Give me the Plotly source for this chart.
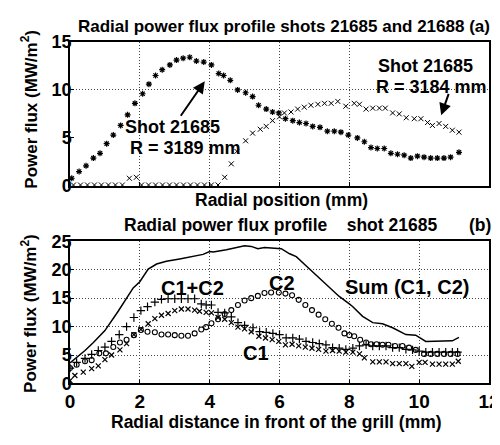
import plotly.graph_objects as go

# ---------------- data: panel (a) ----------------
xa_3189 = [0.05,0.26,0.46,0.67,0.86,1.05,1.24,1.45,1.65,1.86,2.08,2.26,2.45,2.64,2.86,3.05,3.24,3.43,3.62,3.83,
           4.05,4.26,4.4,4.59,4.8,5.03,5.23,5.4,5.62,5.8,5.98,6.17,6.38,6.57,6.76,6.95,7.16,7.37,7.57,7.76,
           7.97,8.23,8.43,8.62,8.8,9.0,9.19,9.38,9.57,9.76,9.95,10.14,10.33,10.52,10.71,10.9,11.14]
ya_3189 = [0.8,1.5,2.1,2.9,3.4,4.4,5.3,6.3,7.4,8.6,9.6,10.6,11.5,12.1,12.6,13.1,13.3,13.4,13.0,12.9,
           12.6,11.7,11.5,11.0,10.0,9.7,9.3,8.4,8.0,7.7,7.6,7.0,6.8,6.6,6.5,6.2,6.1,5.7,5.7,5.6,
           5.3,5.0,4.6,4.0,3.9,3.9,3.4,3.3,3.2,2.9,3.1,3.0,2.9,2.9,2.9,3.0,3.5]

xa_3184 = [0.1,0.3,0.5,0.7,0.9,1.1,1.3,1.5,1.7,1.9,2.05,2.25,2.45,2.65,2.85,3.05,3.25,3.45,3.65,3.85,4.05,4.24,
           4.43,4.62,4.78,5.03,5.23,5.45,5.62,5.8,6.0,6.14,6.33,6.52,6.71,6.9,7.1,7.29,7.48,7.67,7.9,8.14,
           8.29,8.48,8.67,8.86,9.03,9.24,9.43,9.63,9.86,10.05,10.24,10.38,10.57,10.76,10.95,11.14]
ya_3184 = [0.1,0.1,0.1,0.1,0.1,0.1,0.1,0.1,0.8,0.9,0.1,0.1,0.1,0.1,0.1,0.1,0.1,0.1,0.1,0.1,0.1,0.1,
           0.9,2.3,3.6,4.7,5.5,5.9,6.2,6.8,7.2,7.6,7.7,8.0,8.2,8.4,8.5,8.6,8.6,8.8,8.3,8.6,
           8.5,8.0,8.1,8.1,8.1,7.6,7.5,7.1,7.0,7.0,6.6,6.3,6.5,6.2,5.8,5.6]

# ---------------- data: panel (b) ----------------
x_sum = [0.0,0.2,0.43,0.67,1.0,1.38,1.62,1.81,2.0,2.24,2.48,2.76,3.14,3.52,3.81,4.0,4.1,4.48,4.76,5.0,5.19,5.38,
         5.57,5.86,6.05,6.29,6.48,6.76,7.05,7.33,7.71,8.0,8.1,8.38,8.67,8.95,9.24,9.62,9.9,10.19,10.57,10.95,11.14]
y_sum = [3.6,4.6,5.8,7.2,9.3,12.7,14.9,16.8,17.9,20.1,21.0,21.5,21.9,22.4,22.7,23.2,23.1,23.5,23.9,24.2,24.1,23.7,
         23.9,23.7,23.7,22.8,22.3,20.7,19.0,17.4,15.3,14.0,13.5,11.8,10.7,10.5,9.8,8.6,8.5,7.4,7.4,7.5,8.1]

x_c1c2 = [0.0,0.19,0.43,0.62,0.81,1.0,1.19,1.41,1.62,1.83,2.03,2.22,2.43,2.62,2.81,3.0,3.19,3.38,3.57,3.76,
          3.9,4.05,4.24,4.43,4.62,4.81,5.0,5.24,5.43,5.62,5.81,6.0,6.19,6.38,6.57,6.76,6.95,7.14,7.33,7.52,
          7.71,7.9,8.1,8.29,8.48,8.67,8.86,9.05,9.24,9.43,9.62,9.81,10.0,10.19,10.38,10.57,10.76,10.95,11.1]
y_c1c2 = [2.7,3.7,4.4,5.1,5.8,6.4,7.4,8.6,10.0,11.6,12.8,13.5,14.3,14.8,14.9,14.9,14.9,14.9,14.9,14.0,
          13.8,13.8,12.5,12.4,11.7,10.7,10.2,9.8,9.1,9.0,8.8,8.6,8.0,8.0,7.8,7.4,7.2,7.0,6.8,6.3,
          6.2,6.0,6.2,6.6,6.8,6.6,6.6,6.6,6.3,6.3,6.0,5.9,5.7,5.5,5.5,5.5,5.5,5.5,5.5]

x_c1 = [0.0,0.14,0.38,0.62,0.81,1.0,1.19,1.43,1.62,1.83,2.03,2.24,2.43,2.62,2.81,3.0,3.19,3.38,3.57,3.71,
        3.9,4.05,4.24,4.43,4.62,4.81,5.0,5.19,5.41,5.6,5.79,5.98,6.17,6.36,6.55,6.74,6.93,7.12,7.33,7.52,
        7.71,7.9,8.1,8.29,8.43,8.67,8.86,9.05,9.24,9.43,9.62,9.79,10.0,10.17,10.38,10.57,10.76,10.95,11.12]
y_c1 = [0.5,1.4,2.0,2.6,3.1,4.2,5.0,5.9,7.0,8.6,9.5,10.5,11.4,12.0,12.3,12.8,13.1,13.1,12.9,12.7,
        12.5,12.4,11.6,11.3,10.7,9.9,9.6,9.1,8.3,8.0,7.7,7.4,6.8,6.9,6.6,6.4,6.2,6.0,5.7,5.8,
        5.7,5.5,5.5,5.2,4.5,3.8,3.8,3.8,3.5,3.5,3.5,3.0,3.7,3.7,3.4,3.4,3.4,3.4,3.9]

x_c2 = [0.0,0.19,0.43,0.62,0.84,1.03,1.24,1.43,1.62,1.83,2.03,2.22,2.43,2.62,2.81,3.0,3.19,3.38,3.57,3.76,
        3.9,4.05,4.24,4.43,4.62,4.81,5.0,5.19,5.38,5.57,5.76,5.98,6.17,6.36,6.55,6.74,6.93,7.12,7.31,7.5,
        7.69,7.86,8.0,8.14,8.31,8.48,8.62,8.78,8.95,9.12,9.31,9.52,9.71,9.9,10.14,10.33,10.52,10.71,10.9,11.1]
y_c2 = [2.7,3.3,3.9,4.1,5.3,5.3,6.4,7.2,7.7,8.5,9.4,9.1,9.0,8.6,8.6,8.5,8.4,8.4,8.8,9.5,
        9.9,10.6,11.3,12.2,12.9,13.8,14.6,15.0,15.4,15.9,16.0,16.0,15.8,15.5,14.7,13.8,12.9,12.1,11.3,10.5,
        9.8,8.8,8.5,8.3,7.7,7.2,6.9,6.9,6.8,6.8,6.6,6.6,6.3,5.9,5.2,5.2,5.2,5.2,5.2,5.2]

# ticks
top_y_ticks = [0, 5, 10, 15]
top_y_grid = [10]
top_x_grid = [2, 4, 6, 8]
bot_x_ticks = [0, 2, 4, 6, 8, 10, 12]
bot_y_ticks = [0, 5, 10, 15, 20, 25]

FONT = "Liberation Sans, Arial, Helvetica, sans-serif"
OFF = 8                      # page body margin of the html page
W, H = 500 - OFF, 445 - OFF  # figure size so that the page fits the window
L, R = 70, 490               # plot area, in window pixels


def px(xp):
    return (xp - L) / (R - L)


def py(yp):
    return 1 - (yp - OFF) / H


def bold(size):
    return dict(family=FONT, size=size, color="black", weight="bold")


fig = go.Figure()

fig.add_trace(go.Scatter(x=xa_3189, y=ya_3189, mode="markers", xaxis="x", yaxis="y",
                         marker=dict(symbol="asterisk", size=5, color="black",
                                     line=dict(color="black", width=1.2))))
fig.add_trace(go.Scatter(x=xa_3184, y=ya_3184, mode="markers", xaxis="x", yaxis="y",
                         marker=dict(symbol="x-thin", size=5, color="black",
                                     line=dict(color="black", width=1))))

fig.add_trace(go.Scatter(x=x_sum, y=y_sum, mode="lines", xaxis="x2", yaxis="y2",
                         line=dict(color="black", width=1.5)))
fig.add_trace(go.Scatter(x=x_c1c2, y=y_c1c2, mode="markers", xaxis="x2", yaxis="y2",
                         marker=dict(symbol="cross-thin", size=6, color="black",
                                     line=dict(color="black", width=1.2))))
fig.add_trace(go.Scatter(x=x_c1, y=y_c1, mode="markers", xaxis="x2", yaxis="y2",
                         marker=dict(symbol="x-thin", size=5, color="black",
                                     line=dict(color="black", width=1.2))))
fig.add_trace(go.Scatter(x=x_c2, y=y_c2, mode="markers", xaxis="x2", yaxis="y2",
                         marker=dict(symbol="circle-open", size=5, color="black",
                                     line=dict(color="black", width=1.1))))

grid = dict(griddash="1px,2px", gridcolor="#444", gridwidth=1)
axline = dict(showline=True, linecolor="black", linewidth=1.5, mirror=True, zeroline=False,
              ticks="inside", ticklen=4, tickcolor="black", ticklabeloverflow="allow")

top_dom = [py(184), py(33)]
bot_dom = [py(391), py(242)]

fig.update_layout(
    width=W, height=H, margin=dict(l=L - OFF, r=W - (R - OFF), t=0, b=0),
    paper_bgcolor="white", plot_bgcolor="white", showlegend=False,
    xaxis=dict(domain=[0, 1], range=[0, 12], anchor="y", tickvals=top_x_grid, showticklabels=False,
               showgrid=True, **grid, **axline),
    yaxis=dict(domain=top_dom, range=[0, 15], anchor="x", tickvals=top_y_ticks, showgrid=False,
               tickfont=bold(18), ticklabelstandoff=-7,
               minor=dict(tickvals=top_y_grid, showgrid=True, griddash="1px,2px",
                          gridcolor="#444", gridwidth=1, ticks=""),
               **axline),
    xaxis2=dict(domain=[0, 1], range=[0, 12], anchor="y2", tickvals=bot_x_ticks, showgrid=True,
                tickfont=bold(19), **grid, **axline),
    yaxis2=dict(domain=bot_dom, range=[0, 25], anchor="x2", tickvals=bot_y_ticks, showgrid=True,
                tickfont=bold(18), ticklabelstandoff=-7, **grid, **axline),
)

ann = []


def txt(text, x, y, size, xref="paper", yref="paper", xanchor="center", angle=0):
    ann.append(dict(text=text, x=x, y=y, xref=xref, yref=yref, xanchor=xanchor, yanchor="middle",
                    showarrow=False, textangle=angle, font=bold(size)))


# titles
txt("Radial power flux profile shots 21685 and 21688 (a)", px(285), py(17), 17)
txt("Radial position (mm)", px(282), py(199), 17.5)
txt("Radial power flux profile&nbsp;&nbsp;&nbsp; shot 21685", px(281), py(225), 17.5)
txt("(b)", px(481), py(225), 17.5)
txt("Radial distance in front of the grill (mm)", px(277), py(431), 17.5)
txt("Power flux (MW/m<sup>2</sup>)", px(29), py(104), 17, angle=-90)
txt("Power flux (MW/m<sup>2</sup>)", px(29), py(318), 17, angle=-90)

# panel (a) labels; the left one carries its arrow
ann.append(dict(text="Shot 21685", x=3.86, y=10.9, xref="x", yref="y", ax=-32, ay=46,
                showarrow=True, arrowhead=2, arrowsize=1.2, arrowwidth=2, arrowcolor="black",
                font=bold(18)))
txt("R = 3189 mm", 1.66, 3.9, 18, "x", "y", "left")
txt("Shot 21685", 8.77, 12.5, 18, "x", "y", "left")
txt("R = 3184 mm", 8.71, 10.3, 18, "x", "y", "left")
ann.append(dict(text="", x=10.63, y=7.35, xref="x", yref="y", ax=8, ay=-23, showarrow=True,
                arrowhead=2, arrowsize=1.2, arrowwidth=2, arrowcolor="black"))

# panel (b) labels
txt("C1+C2", 3.51, 16.8, 20, "x2", "y2")
txt("C2", 6.06, 17.6, 20, "x2", "y2")
txt("Sum (C1, C2)", 9.66, 16.9, 20, "x2", "y2")
txt("C1", 5.34, 5.4, 20, "x2", "y2")

fig.update_layout(annotations=ann)
fig.write_html("out.html")
